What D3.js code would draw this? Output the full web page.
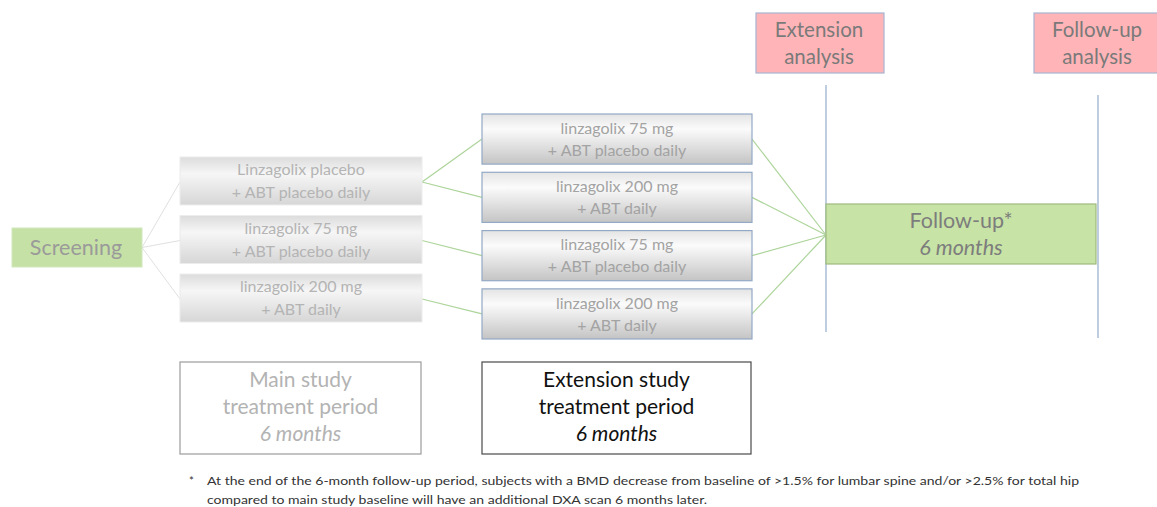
<!DOCTYPE html>
<html>
<head>
<meta charset="utf-8">
<script src="https://cdn.jsdelivr.net/npm/d3@7/dist/d3.min.js"></script>
<style>
  body { margin: 0; background: #fff; }
  text { font-family: Lato, "Open Sans", sans-serif; }
</style>
</head>
<body>
<div id="container"></div>
<script>
let w = 1157;
let h = 507;

// DATA
let screening = "Screening";
let mainArms = [
  ["Linzagolix placebo", "+ ABT placebo daily"],
  ["linzagolix 75 mg", "+ ABT placebo daily"],
  ["linzagolix 200 mg", "+ ABT daily"]
];
let extArms = [
  ["linzagolix 75 mg", "+ ABT placebo daily"],
  ["linzagolix 200 mg", "+ ABT daily"],
  ["linzagolix 75 mg", "+ ABT placebo daily"],
  ["linzagolix 200 mg", "+ ABT daily"]
];
// index of the main study arm each extension arm comes from
let extFrom = [0, 0, 1, 2];
let followUp = ["Follow-up*", "6 months"];
let analyses = [["Extension", "analysis"], ["Follow-up", "analysis"]];
let periods = [
  ["Main study", "treatment period", "6 months"],
  ["Extension study", "treatment period", "6 months"]
];
let footnote = [
  "At the end of the 6-month  follow-up period, subjects with a BMD decrease from baseline of >1.5% for lumbar spine and/or >2.5% for total hip",
  "compared to main study baseline will have an additional DXA scan 6 months later."
];

// SVG
let viz = d3.select("#container").append("svg")
    .attr("width", w)
    .attr("height", h)
    .style("background-color", "white");

let defs = viz.append("defs");
let g1 = defs.append("linearGradient").attr("id", "mainGrad").attr("x1", 0).attr("y1", 0).attr("x2", 0).attr("y2", 1);
g1.append("stop").attr("offset", "0%").attr("stop-color", "#dcdcdc");
g1.append("stop").attr("offset", "35%").attr("stop-color", "#f6f6f6");
g1.append("stop").attr("offset", "100%").attr("stop-color", "#d6d6d6");
let g2 = defs.append("linearGradient").attr("id", "extGrad").attr("x1", 0).attr("y1", 0).attr("x2", 0).attr("y2", 1);
g2.append("stop").attr("offset", "0%").attr("stop-color", "#e4e4e4");
g2.append("stop").attr("offset", "30%").attr("stop-color", "#fbfbfb");
g2.append("stop").attr("offset", "100%").attr("stop-color", "#c4c4c4");

// layout scales
let mainY = d3.scaleBand().domain(d3.range(mainArms.length)).range([157, 322]).paddingInner(0.18);
let extY = d3.scaleBand().domain(d3.range(extArms.length)).range([114, 339]).paddingInner(0.14);
let mainX = [180, 422];
let extX = [482, 752];
let scr = {x: 12, y: 228, w: 130, h: 39};
let fu = {x: 826, y: 204, w: 270, h: 60};
let scrMid = [scr.x + scr.w, scr.y + scr.h / 2];
let fuMid = [fu.x, fu.y + fu.h / 2 + 1];

function twoLines(sel, lines, cx, cy, gap) {
  lines.forEach((t, i) => {
    sel.append("text")
      .attr("x", cx)
      .attr("y", cy + (i - (lines.length - 1) / 2) * gap)
      .attr("dy", "0.35em")
      .attr("text-anchor", "middle")
      .text(t);
  });
}

// vertical timeline lines
viz.append("line").attr("x1", 826).attr("x2", 826).attr("y1", 85).attr("y2", 332)
  .attr("stroke", "#a9bcd6").attr("stroke-width", 1.5);
viz.append("line").attr("x1", 1098).attr("x2", 1098).attr("y1", 95).attr("y2", 338)
  .attr("stroke", "#a9bcd6").attr("stroke-width", 1.5);

// connectors: screening -> main arms
viz.selectAll(".c1").data(mainArms).enter()
  .append("line").attr("class", "c1")
    .attr("x1", scrMid[0]).attr("y1", scrMid[1])
    .attr("x2", mainX[0]).attr("y2", (d, i) => mainY(i) + mainY.bandwidth() / 2 + 1)
    .attr("stroke", "#e0e0e0").attr("stroke-width", 1);

// connectors: main arms -> extension arms
viz.selectAll(".c2").data(extArms).enter()
  .append("line").attr("class", "c2")
    .attr("x1", mainX[1]).attr("y1", (d, i) => mainY(extFrom[i]) + mainY.bandwidth() / 2 + 1)
    .attr("x2", extX[0]).attr("y2", (d, i) => extY(i) + extY.bandwidth() / 2)
    .attr("stroke", "#add49a").attr("stroke-width", 1.2);

// connectors: extension arms -> follow-up
viz.selectAll(".c3").data(extArms).enter()
  .append("line").attr("class", "c3")
    .attr("x1", extX[1]).attr("y1", (d, i) => extY(i) + extY.bandwidth() / 2)
    .attr("x2", fuMid[0]).attr("y2", fuMid[1])
    .attr("stroke", "#add49a").attr("stroke-width", 1.2);

// screening box
viz.append("rect").attr("x", scr.x).attr("y", scr.y).attr("width", scr.w).attr("height", scr.h)
  .attr("fill", "#c6e1a6").attr("stroke", "#d2e7bb");
viz.append("text").attr("x", scr.x + scr.w / 2 - 1).attr("y", scr.y + scr.h / 2).attr("dy", "0.35em")
  .attr("text-anchor", "middle").attr("font-size", 21.5).attr("fill", "#9a9a9a").text(screening);

// main study arms
let mg = viz.selectAll(".main").data(mainArms).enter().append("g").attr("class", "main")
  .attr("font-size", 16).attr("fill", "#b4b4b4");
mg.append("rect")
  .attr("x", mainX[0]).attr("y", (d, i) => mainY(i))
  .attr("width", mainX[1] - mainX[0]).attr("height", mainY.bandwidth())
  .attr("fill", "url(#mainGrad)").attr("stroke", "#ececec");
mg.each(function(d, i) {
  twoLines(d3.select(this), d, (mainX[0] + mainX[1]) / 2, mainY(i) + mainY.bandwidth() / 2, 23);
});

// extension arms
let eg = viz.selectAll(".ext").data(extArms).enter().append("g").attr("class", "ext")
  .attr("font-size", 16).attr("fill", "#a3a3a3");
eg.append("rect")
  .attr("x", extX[0]).attr("y", (d, i) => extY(i))
  .attr("width", extX[1] - extX[0]).attr("height", extY.bandwidth())
  .attr("fill", "url(#extGrad)").attr("stroke", "#93a9c6").attr("stroke-width", 1.2);
eg.each(function(d, i) {
  twoLines(d3.select(this), d, (extX[0] + extX[1]) / 2, extY(i) + extY.bandwidth() / 2, 22);
});

// follow-up box
viz.append("rect").attr("x", fu.x).attr("y", fu.y).attr("width", fu.w).attr("height", fu.h)
  .attr("fill", "#c7e3a5").attr("stroke", "#9fba7e").attr("stroke-width", 1.2);
let fuText = viz.append("g").attr("font-size", 21.5).attr("fill", "#7d7d7d");
twoLines(fuText, followUp, fu.x + fu.w / 2, fu.y + fu.h / 2, 27);
fuText.selectAll("text").filter((d, i) => i == 1).attr("font-style", "italic");

// analysis boxes
let anBoxes = [{x: 756, w: 128}, {x: 1034, w: 128}];
analyses.forEach((a, i) => {
  let b = anBoxes[i];
  viz.append("rect").attr("x", b.x).attr("y", 13).attr("width", b.w).attr("height", 60)
    .attr("fill", "#ffb5b8").attr("stroke", "#a7b4d0").attr("stroke-width", 1.2);
  let tg = viz.append("g").attr("font-size", 20.5).attr("fill", "#7a7a7a");
  twoLines(tg, a, b.x + 63, 43, 27);
});

// period boxes
let perBoxes = [
  {x: mainX[0], w: mainX[1] - mainX[0] - 1, stroke: "#9c9c9c", fill: "#b3b3b3"},
  {x: extX[0], w: extX[1] - extX[0] - 1, stroke: "#4a4a4a", fill: "#111111"}
];
periods.forEach((p, i) => {
  let b = perBoxes[i];
  viz.append("rect").attr("x", b.x).attr("y", 362).attr("width", b.w).attr("height", 92)
    .attr("fill", "white").attr("stroke", b.stroke).attr("stroke-width", 1.2);
  let tg = viz.append("g").attr("font-size", 21).attr("fill", b.fill);
  twoLines(tg, p, b.x + b.w / 2, 407, 27);
  tg.selectAll("text").filter((d, j) => j == 2).attr("font-style", "italic");
});

// footnote
let fn = viz.append("g").attr("font-size", 11.5).attr("fill", "#333");
fn.append("text").attr("x", 189).attr("y", 485).text("*");
fn.selectAll(".fn").data(footnote).enter().append("text").attr("class", "fn")
  .attr("x", 207).attr("y", (d, i) => 485 + i * 19)
  .attr("textLength", (d, i) => i == 0 ? 872 : 500)
  .attr("lengthAdjust", "spacingAndGlyphs")
  .text(d => d);
</script>
</body>
</html>
